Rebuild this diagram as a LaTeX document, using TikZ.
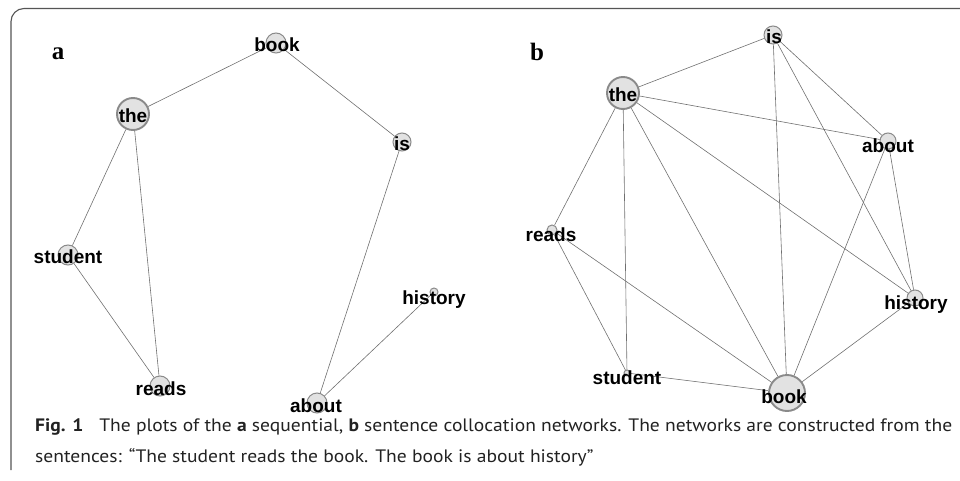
\documentclass[tikz,border=0pt]{standalone}
\usepackage{fontspec}
\setmainfont{Liberation Serif}
\newfontfamily\wordfont{Liberation Sans}
\newfontfamily\capfont{PT Sans}
\definecolor{nodefill}{HTML}{E2E2E2}
\definecolor{nodeline}{HTML}{8A8A8A}
\definecolor{edgecol}{HTML}{707070}
\definecolor{framecol}{HTML}{555555}
\definecolor{captext}{HTML}{222222}
\newcommand\capsize{\capfont\fontsize{18}{20}\selectfont}
\newcommand\capfirst{\textbf{Fig. 1}\hspace{0.55em} The plots of the \textbf{a} sequential, \textbf{b} sentence collocation networks. The networks are constructed from the}
\newcommand\capsecond{sentences: “The student reads the book. The book is about history”}
\begin{document}
\begin{tikzpicture}[x=1pt,y=-1pt,
  vert/.style={circle,fill=nodefill,draw=nodeline,line width=1pt,inner sep=0pt,minimum size=#1},
  hub/.style={vert=#1,line width=1.9pt},
  word/.style={font=\wordfont\bfseries\fontsize{19}{21}\selectfont,inner sep=0pt,text=black},
  edge/.style={draw=edgecol,line width=0.6pt},
  panel/.style={font=\bfseries\fontsize{25}{27}\selectfont,inner sep=0pt},
  capline/.style={anchor=base west,inner sep=0pt,text=captext}]
\useasboundingbox (0,0) rectangle (960,481);

% frame
\draw[framecol,line width=1.1pt,rounded corners=13pt] (11,470) |- (960,8.5);

% panel letters
\node[panel] (la) at (58,54) {a};
\node[panel] (lb) at (537,52) {b};

% ---- panel a: sequential network ----
\node[vert=20pt] (aBook)    at (276,43)  {};
\node[hub=32pt]  (aThe)     at (133,114) {};
\node[vert=18pt] (aIs)      at (402,142) {};
\node[vert=20pt] (aStudent) at (68,255)  {};
\node[vert=20pt] (aReads)   at (160,386) {};
\node[vert=20pt] (aAbout)   at (317,403) {};
\node[vert=8pt]  (aHistory) at (434,292) {};

\path[edge] (aBook) -- (aThe);
\path[edge] (aBook) -- (aIs);
\path[edge] (aThe) -- (aStudent);
\path[edge] (aThe) -- (aReads);
\path[edge] (aStudent) -- (aReads);
\path[edge] (aIs) -- (aAbout);
\path[edge] (aAbout) -- (aHistory);

\node[word] (aBookT)    at (277,45)  {book};
\node[word] (aTheT)     at (133,116) {the};
\node[word] (aIsT)      at (402,144) {is};
\node[word] (aStudentT) at (68,257)  {student};
\node[word] (aReadsT)   at (161,389) {reads};
\node[word] (aAboutT)   at (316,406) {about};
\node[word] (aHistoryT) at (434,300) {history};

% ---- panel b: sentence network ----
\node[vert=18pt] (bIs)      at (773,35)  {};
\node[hub=32pt]  (bThe)     at (623,93)  {};
\node[vert=16pt] (bAbout)   at (888,141) {};
\node[vert=10pt] (bReads)   at (552,230) {};
\node[vert=6pt]  (bStudent) at (627,373) {};
\node[hub=36pt]  (bBook)    at (787,393) {};
\node[vert=16pt] (bHistory) at (915,298) {};

\path[edge] (bThe) -- (bIs);
\path[edge] (bThe) -- (bAbout);
\path[edge] (bThe) -- (bReads);
\path[edge] (bThe) -- (bStudent);
\path[edge] (bThe) -- (bBook);
\path[edge] (bThe) -- (bHistory);
\path[edge] (bIs) -- (bAbout);
\path[edge] (bIs) -- (bBook);
\path[edge] (bIs) -- (bHistory);
\path[edge] (bAbout) -- (bBook);
\path[edge] (bAbout) -- (bHistory);
\path[edge] (bReads) -- (bStudent);
\path[edge] (bReads) -- (bBook);
\path[edge] (bStudent) -- (bBook);
\path[edge] (bHistory) -- (bBook);

\node[word] (bIsT)      at (774,37)  {is};
\node[word] (bTheT)     at (623,95)  {the};
\node[word] (bAboutT)   at (888,146) {about};
\node[word] (bReadsT)   at (551,235) {reads};
\node[word] (bStudentT) at (627,378) {student};
\node[word] (bBookT)    at (784,397) {book};
\node[word] (bHistoryT) at (916,305) {history};

% ---- caption: both lines share the horizontal squeeze of the first ----
\node[capline] (cap1) at (35,431) {\capsize\sbox0{\capfirst}%
  \pgfmathsetmacro\capsx{917/(\wd0/1pt)}\xdef\capsxg{\capsx}%
  \scalebox{\capsx}[1]{\usebox0}};
\node[capline] (cap2) at (35,462) {\capsize\scalebox{\capsxg}[1]{\capsecond}};
\end{tikzpicture}
\end{document}
